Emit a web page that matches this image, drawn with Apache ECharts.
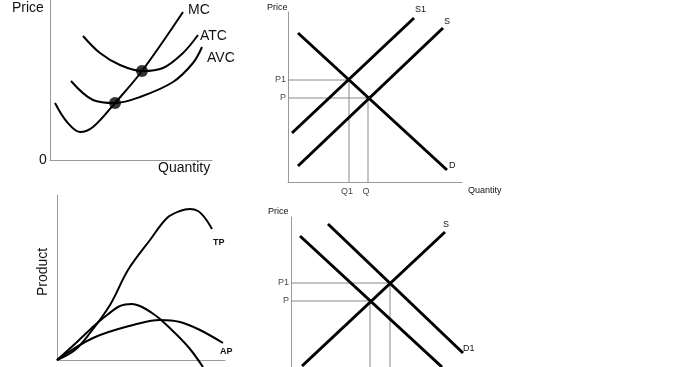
<!DOCTYPE html>
<html>
<head>
<meta charset="utf-8">
<script src="https://cdn.jsdelivr.net/npm/echarts@6/dist/echarts.min.js"></script>
<style>html,body{margin:0;padding:0;background:#fff}#c{width:680px;height:367px}</style>
</head>
<body>
<div id="c"></div>
<script>
// ---- Panel 1: cost curves (quantity, price) ----
const mcCurve  = [[5,57],[17,38],[30,28],[43,33],[65,57],[92,89],[133,148]];
const atcCurve = [[33,124],[50,107],[70,95],[92,89],[113,92],[133,107],[148,125]];
const avcCurve = [[21,79],[43,60],[65,57],[90,63],[123,78],[143,97],[152,113]];
const costDots = [[65,57],[92,89]];

// ---- Panel 2: supply shift ----
const s1Line = [[4,49],[126,164]];
const sLine2 = [[10,16],[155,154]];
const dLine2 = [[10,149],[159,12]];
const eq2 = {P1: 102, Q1: 61, P: 84, Q: 80};

// ---- Panel 3: product curves ----
const tpCurve = [[0,0],[18,10],[33,27],[53,55],[71,90],[93,120],[110,142],[123,149],[133,151],[141,149],[148,142],[155,131]];
const mpCurve = [[0,0],[20,18],[38,35],[50,45],[63,54],[75,56],[85,53],[95,47],[103,41],[120,25],[133,11],[146,-7]];
const apCurve = [[0,0],[36,22],[76,35],[103,40],[123,38],[143,30],[166,17]];

// ---- Panel 4: demand shift ----
const sLine4  = [[11,17],[154,151]];
const dLine4  = [[9,147],[151,16]];
const d1Line4 = [[37,159],[172,30]];
const eq4 = {P1: 100, Q1: 99, P: 82, Q: 79};

const FONT = '"Liberation Sans", Arial, sans-serif';
const AX = '#9a9a9a';

function axis(gi, max, extra) {
  return Object.assign({
    type: 'value', gridIndex: gi, min: 0, max: max,
    axisLine: {show: true, onZero: false, lineStyle: {color: AX, width: 1}},
    axisTick: {show: false}, axisLabel: {show: false}, splitLine: {show: false}
  }, extra || {});
}

function line(gi, data, width, label, off, smooth) {
  return {
    type: 'line', xAxisIndex: gi, yAxisIndex: gi, data: data,
    smooth: smooth ? 0.35 : false, symbol: 'none', clip: false, silent: true,
    lineStyle: {color: '#000', width: width},
    endLabel: label ? {show: true, formatter: label, offset: [off[0], off[1]], distance: 0,
      fontFamily: FONT, fontSize: off[2] || 9, color: '#111',
      fontWeight: off[3] || 'normal'} : {show: false},
    z: 3
  };
}

function guides(gi, eq) {
  return [
    {type: 'line', xAxisIndex: gi, yAxisIndex: gi, symbol: 'none', silent: true, clip: false,
     data: [[0, eq.P1], [eq.Q1, eq.P1], [eq.Q1, 0]], lineStyle: {color: '#888', width: 1}, z: 2},
    {type: 'line', xAxisIndex: gi, yAxisIndex: gi, symbol: 'none', silent: true, clip: false,
     data: [[0, eq.P], [eq.Q, eq.P], [eq.Q, 0]], lineStyle: {color: '#888', width: 1}, z: 2}
  ];
}

function tickText(gi, pts, pos, off) {
  return {
    type: 'scatter', xAxisIndex: gi, yAxisIndex: gi, symbolSize: 0, silent: true, clip: false,
    data: pts.map(p => ({name: p[0], value: p[1]})),
    label: {show: true, formatter: '{b}', position: pos, distance: 2, offset: off || [0,0],
      fontFamily: FONT, fontSize: 9, color: '#111'}
  };
}

const chart = echarts.init(document.getElementById('c'), null, {renderer: 'canvas'});
const option = {
  animation: false,
  backgroundColor: '#fff',
  grid: [
    {left: 50, top: 0, width: 162, height: 160, outerBoundsMode: 'none'},
    {left: 288, top: 12, width: 174, height: 170, outerBoundsMode: 'none'},
    {left: 57, top: 195, width: 168, height: 165, outerBoundsMode: 'none'},
    {left: 291, top: 217, width: 180, height: 166, outerBoundsMode: 'none'}
  ],
  xAxis: [axis(0, 162), axis(1, 174), axis(2, 168), axis(3, 180)],
  yAxis: [axis(0, 160), axis(1, 170), axis(2, 165), axis(3, 166)],
  series: [
    line(0, mcCurve, 2, 'MC', [5, -2, 14], true),
    line(0, atcCurve, 2, 'ATC', [2, 1, 14], true),
    line(0, avcCurve, 2, 'AVC', [5, 11, 14], true),
    {type: 'scatter', xAxisIndex: 0, yAxisIndex: 0, data: costDots, symbolSize: 12,
     itemStyle: {color: '#000'}, silent: true, z: 4},

    line(1, s1Line, 3, 'S1', [1, -8]),
    line(1, sLine2, 3, 'S', [1, -6]),
    line(1, dLine2, 3, 'D', [2, -4]),
    ...guides(1, eq2),
    tickText(1, [['P1', [0, eq2.P1]], ['P', [0, eq2.P]]], 'left'),
    tickText(1, [['Q1', [eq2.Q1, 0]], ['Q', [eq2.Q, 0]]], 'bottom', [-2, 3]),

    line(2, tpCurve, 2, 'TP', [1, 14, 9, 'bold'], true),
    line(2, mpCurve, 2, null, null, true),
    line(2, apCurve, 2, 'AP', [-3, 9, 9, 'bold'], true),

    line(3, sLine4, 3, 'S', [-2, -7]),
    line(3, dLine4, 3, null, null),
    line(3, d1Line4, 3, 'D1', [0, -4]),
    ...guides(3, eq4),
    tickText(3, [['P1', [0, eq4.P1]], ['P', [0, eq4.P]]], 'left')
  ],
  graphic: [
    {type: 'text', left: 12, top: 1, style: {text: 'Price', font: '14px ' + FONT, fill: '#111'}},
    {type: 'text', left: 39, top: 153, style: {text: '0', font: '14px ' + FONT, fill: '#111'}},
    {type: 'text', left: 158, top: 161, style: {text: 'Quantity', font: '14px ' + FONT, fill: '#111'}},
    {type: 'text', left: 267, top: 3, style: {text: 'Price', font: '9px ' + FONT, fill: '#111'}},
    {type: 'text', left: 468, top: 186, style: {text: 'Quantity', font: '9px ' + FONT, fill: '#111'}},
    {type: 'text', x: 43, y: 272, rotation: Math.PI / 2,
     style: {text: 'Product', font: '14px ' + FONT, fill: '#111', align: 'center', verticalAlign: 'middle'}},
    {type: 'text', left: 268, top: 207, style: {text: 'Price', font: '9px ' + FONT, fill: '#111'}}
  ]
};
chart.setOption(option);
</script>
</body>
</html>
